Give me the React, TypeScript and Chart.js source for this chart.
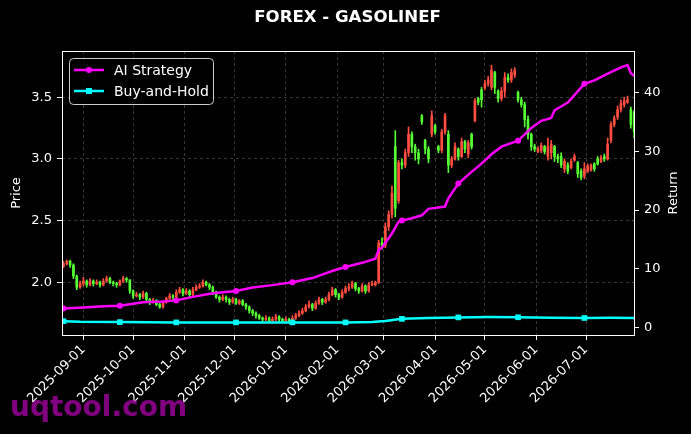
import React, { useEffect, useRef } from 'react';
import { Chart, registerables } from 'chart.js';

Chart.register(...registerables);

// ---------- data ----------
const TITLE = 'FOREX - GASOLINEF';
const START_DATE = '2025-08-20';
const STEP_DAYS = 2;

const opens = [
  2.13, 2.15, 2.17, 2.14, 2.05, 1.96, 1.99, 2.01, 1.98, 2.01,
  1.99, 2.00, 1.98, 2.01, 2.03, 2.00, 1.99, 1.98, 2.01, 2.03,
  2.02, 1.93, 1.89, 1.90, 1.88, 1.91, 1.86, 1.84, 1.85, 1.82,
  1.80, 1.84, 1.87, 1.89, 1.88, 1.92, 1.94, 1.91, 1.93, 1.90,
  1.94, 1.96, 1.97, 2.00, 1.98, 1.96, 1.92, 1.88, 1.86, 1.88,
  1.86, 1.84, 1.86, 1.83, 1.85, 1.82, 1.80, 1.77, 1.75, 1.73,
  1.71, 1.70, 1.71, 1.69, 1.70, 1.72, 1.70, 1.69, 1.70, 1.68,
  1.71, 1.73, 1.75, 1.77, 1.80, 1.82, 1.79, 1.83, 1.86, 1.84,
  1.86, 1.90, 1.94, 1.90, 1.88, 1.92, 1.95, 1.96, 1.99, 1.95,
  1.93, 1.97, 1.93, 1.98, 1.98, 2.00, 2.32, 2.30, 2.45, 2.55,
  3.10, 2.66, 2.97, 2.95, 3.05, 3.20, 3.10, 3.05, 3.35, 3.15,
  3.08, 3.20, 3.27, 3.10, 3.07, 3.22, 3.20, 2.95, 3.00, 3.08,
  3.02, 3.14, 3.04, 3.20, 3.31, 3.49, 3.56, 3.58, 3.61, 3.58,
  3.70, 3.55, 3.49, 3.55, 3.66, 3.64, 3.68, 3.54, 3.48, 3.44,
  3.32, 3.20, 3.10, 3.06, 3.07, 3.10, 3.02, 3.05, 3.10, 3.02,
  3.02, 2.92, 2.95, 2.93, 2.99, 2.97, 2.90, 2.86, 2.90, 2.91,
  2.96, 3.00, 2.98, 3.02, 3.00, 3.15, 3.28, 3.34, 3.40, 3.44,
  3.46, 3.40, 3.38,
];
const highs = [
  2.17, 2.18, 2.18, 2.15, 2.06, 2.01, 2.04, 2.02, 2.03, 2.02,
  2.02, 2.01, 2.03, 2.05, 2.04, 2.01, 2.00, 2.02, 2.05, 2.04,
  2.02, 1.94, 1.92, 1.91, 1.93, 1.92, 1.87, 1.87, 1.86, 1.83,
  1.85, 1.88, 1.91, 1.90, 1.94, 1.96, 1.95, 1.95, 1.94, 1.96,
  1.98, 1.99, 2.02, 2.01, 1.99, 1.97, 1.93, 1.89, 1.90, 1.89,
  1.87, 1.88, 1.87, 1.86, 1.86, 1.83, 1.81, 1.78, 1.76, 1.74,
  1.72, 1.73, 1.72, 1.72, 1.74, 1.73, 1.71, 1.72, 1.71, 1.73,
  1.75, 1.77, 1.79, 1.82, 1.85, 1.83, 1.85, 1.88, 1.87, 1.88,
  1.92, 1.96, 1.95, 1.91, 1.94, 1.97, 1.99, 2.01, 2.00, 1.96,
  1.99, 1.98, 2.00, 2.01, 2.01, 2.34, 2.36, 2.48, 2.58, 2.78,
  3.23, 2.99, 3.00, 3.08, 3.26, 3.22, 3.12, 3.08, 3.36, 3.16,
  3.10, 3.39, 3.28, 3.11, 3.24, 3.37, 3.23, 3.02, 3.13, 3.09,
  3.17, 3.15, 3.15, 3.21, 3.49, 3.50, 3.58, 3.64, 3.67, 3.76,
  3.71, 3.56, 3.58, 3.70, 3.69, 3.73, 3.74, 3.55, 3.50, 3.46,
  3.35, 3.21, 3.12, 3.10, 3.13, 3.11, 3.17, 3.15, 3.11, 3.04,
  3.05, 3.00, 2.97, 3.00, 3.04, 2.98, 2.92, 2.97, 2.96, 2.96,
  2.97, 3.02, 3.03, 3.04, 3.17, 3.30, 3.35, 3.43, 3.48, 3.50,
  3.51, 3.42, 3.39,
];
const lows = [
  2.12, 2.14, 2.12, 2.03, 1.94, 1.95, 1.97, 1.96, 1.97, 1.97,
  1.98, 1.96, 1.97, 2.00, 1.99, 1.97, 1.96, 1.97, 2.00, 2.00,
  1.91, 1.87, 1.88, 1.86, 1.87, 1.85, 1.82, 1.83, 1.81, 1.79,
  1.79, 1.83, 1.86, 1.86, 1.87, 1.91, 1.89, 1.90, 1.88, 1.89,
  1.93, 1.95, 1.96, 1.97, 1.94, 1.90, 1.87, 1.84, 1.85, 1.84,
  1.82, 1.83, 1.82, 1.82, 1.81, 1.78, 1.75, 1.73, 1.71, 1.70,
  1.68, 1.69, 1.68, 1.68, 1.69, 1.68, 1.68, 1.68, 1.67, 1.67,
  1.70, 1.72, 1.74, 1.76, 1.79, 1.77, 1.78, 1.82, 1.82, 1.83,
  1.85, 1.89, 1.88, 1.86, 1.87, 1.91, 1.93, 1.95, 1.93, 1.91,
  1.92, 1.91, 1.92, 1.97, 1.97, 1.99, 2.27, 2.28, 2.42, 2.52,
  2.53, 2.64, 2.92, 2.93, 3.02, 3.05, 2.99, 2.96, 3.28, 3.04,
  2.97, 3.18, 3.20, 3.05, 3.05, 3.20, 2.89, 2.93, 2.99, 2.99,
  3.01, 3.05, 3.01, 3.08, 3.30, 3.44, 3.42, 3.56, 3.59, 3.56,
  3.53, 3.46, 3.47, 3.50, 3.62, 3.62, 3.66, 3.46, 3.42, 3.26,
  3.16, 3.07, 3.06, 3.05, 3.05, 3.04, 2.99, 3.00, 2.98, 2.97,
  2.93, 2.89, 2.88, 2.92, 2.98, 2.85, 2.83, 2.84, 2.89, 2.90,
  2.90, 2.95, 2.97, 2.98, 2.99, 3.13, 3.26, 3.32, 3.38, 3.42,
  3.45, 3.25, 3.17,
];
const closes = [
  2.15, 2.17, 2.14, 2.05, 1.96, 1.99, 2.01, 1.98, 2.01, 1.99,
  2.00, 1.98, 2.01, 2.03, 2.00, 1.99, 1.98, 2.01, 2.03, 2.02,
  1.93, 1.89, 1.90, 1.88, 1.91, 1.86, 1.84, 1.85, 1.82, 1.80,
  1.84, 1.87, 1.89, 1.88, 1.92, 1.94, 1.91, 1.93, 1.90, 1.94,
  1.96, 1.97, 2.00, 1.98, 1.96, 1.92, 1.88, 1.86, 1.88, 1.86,
  1.84, 1.86, 1.83, 1.85, 1.82, 1.80, 1.77, 1.75, 1.73, 1.71,
  1.70, 1.71, 1.69, 1.70, 1.72, 1.70, 1.69, 1.70, 1.68, 1.71,
  1.73, 1.75, 1.77, 1.80, 1.82, 1.79, 1.83, 1.86, 1.84, 1.86,
  1.90, 1.94, 1.90, 1.88, 1.92, 1.95, 1.96, 1.99, 1.95, 1.93,
  1.97, 1.93, 1.98, 1.99, 2.00, 2.32, 2.30, 2.45, 2.55, 2.72,
  2.60, 2.97, 2.95, 3.05, 3.20, 3.10, 3.05, 3.00, 3.30, 3.08,
  3.00, 3.35, 3.22, 3.07, 3.22, 3.35, 2.95, 3.00, 3.10, 3.02,
  3.14, 3.08, 3.13, 3.10, 3.47, 3.46, 3.48, 3.61, 3.64, 3.72,
  3.58, 3.49, 3.55, 3.66, 3.64, 3.70, 3.72, 3.48, 3.44, 3.32,
  3.20, 3.10, 3.08, 3.08, 3.11, 3.06, 3.10, 3.12, 3.02, 3.00,
  2.95, 2.98, 2.90, 2.98, 3.02, 2.88, 2.85, 2.92, 2.94, 2.95,
  2.92, 2.96, 3.01, 3.00, 3.12, 3.28, 3.33, 3.40, 3.45, 3.47,
  3.48, 3.28, 3.22,
];

// cumulative return series (index = candle index)
const strategyIdx = [
  0, 6, 12, 17, 24, 30, 34, 39, 45, 52, 57, 63, 69, 75, 81, 85, 90, 94, 95, 96,
  99, 101, 102, 105, 108, 110, 115, 116, 119, 123, 126, 129, 132, 137, 141, 144,
  147, 148, 152, 157, 160, 165, 168, 170, 171, 172,
];
const strategyVals = [
  3.2, 3.4, 3.6, 3.7, 4.3, 4.4, 4.6, 5.2, 5.8, 6.2, 6.8, 7.2, 7.7, 8.4, 9.6, 10.3, 11.0, 11.7, 13.2, 13.6,
  16.0, 18.0, 18.2, 18.6, 19.1, 20.2, 20.6, 22.0, 24.5, 26.5, 27.9, 29.5, 30.8, 31.8, 34.0, 35.2,
  35.7, 37.0, 38.3, 41.5, 42.1, 43.5, 44.3, 44.7, 43.3, 42.9,
];
const holdIdx = [0, 5, 17, 34, 52, 69, 85, 93, 97, 102, 110, 119, 128, 137, 147, 157, 165, 172];
const holdVals = [1.05, 0.95, 0.9, 0.85, 0.85, 0.85, 0.85, 0.9, 1.1, 1.45, 1.6, 1.7, 1.75, 1.72, 1.62, 1.6, 1.62, 1.58];
const markerIdx = [0, 17, 34, 52, 69, 85, 102, 119, 137, 157];

const monthTicks = [
  '2025-09-01', '2025-10-01', '2025-11-01', '2025-12-01', '2026-01-01', '2026-02-01',
  '2026-03-01', '2026-04-01', '2026-05-01', '2026-06-01', '2026-07-01',
];
const priceTicks = [2.0, 2.5, 3.0, 3.5];
const returnTicks = [0, 10, 20, 30, 40];

// ---------- style ----------
const MAGENTA = '#ff00ff';
const CYAN = '#00ffff';
const UP = '#ff4d40';
const DOWN = '#55ff33';
const GRID = 'rgba(255,255,255,0.27)';
const FONT = '"DejaVu Sans", "Liberation Sans", sans-serif';

const dayOf = (s: string) =>
  (Date.parse(s + 'T00:00:00Z') - Date.parse(START_DATE + 'T00:00:00Z')) / 86400000;

const decor = {
  id: 'decor',
  beforeDraw(chart: any) {
    const { ctx, width, height } = chart;
    ctx.save();
    ctx.fillStyle = '#000';
    ctx.fillRect(0, 0, width, height);
    ctx.restore();
  },
  afterDraw(chart: any) {
    const { ctx, chartArea: a } = chart;
    ctx.save();
    // frame
    ctx.strokeStyle = '#ffffff';
    ctx.lineWidth = 1;
    ctx.setLineDash([]);
    ctx.strokeRect(Math.round(a.left) + 0.5, Math.round(a.top) + 0.5, Math.round(a.right - a.left), Math.round(a.bottom - a.top));
    // title
    ctx.fillStyle = '#ffffff';
    ctx.font = `bold 16.6px ${FONT}`;
    ctx.textAlign = 'center';
    ctx.textBaseline = 'middle';
    ctx.fillText(TITLE, 347.5, 18);
    // axis titles
    const mid = (a.top + a.bottom) / 2;
    ctx.font = `13px ${FONT}`;
    ctx.save();
    ctx.translate(17, mid);
    ctx.rotate(-Math.PI / 2);
    ctx.fillText('Price', 0, 0);
    ctx.restore();
    ctx.save();
    ctx.translate(674, mid);
    ctx.rotate(-Math.PI / 2);
    ctx.fillText('Return', 0, 0);
    ctx.restore();
    // legend
    const lx = 69.5, ly = 58.5, lw = 144, lh = 46;
    ctx.beginPath();
    (ctx as any).roundRect(lx, ly, lw, lh, 4);
    ctx.fillStyle = 'rgba(0,0,0,0.8)';
    ctx.fill();
    ctx.strokeStyle = '#cccccc';
    ctx.lineWidth = 1;
    ctx.stroke();
    const rows = [
      { label: 'AI Strategy', color: MAGENTA, y: 70, square: false },
      { label: 'Buy-and-Hold', color: CYAN, y: 91, square: true },
    ];
    rows.forEach((r) => {
      ctx.strokeStyle = r.color;
      ctx.lineWidth = 2.5;
      ctx.beginPath();
      ctx.moveTo(74, r.y);
      ctx.lineTo(104, r.y);
      ctx.stroke();
      ctx.fillStyle = r.color;
      if (r.square) {
        ctx.fillRect(86, r.y - 3, 6, 6);
      } else {
        ctx.beginPath();
        ctx.arc(89, r.y, 3, 0, Math.PI * 2);
        ctx.fill();
      }
      ctx.fillStyle = '#ffffff';
      ctx.font = `14px ${FONT}`;
      ctx.textAlign = 'left';
      ctx.textBaseline = 'middle';
      ctx.fillText(r.label, 114, r.y + 1);
    });
    // watermark
    ctx.font = `bold 28px ${FONT}`;
    ctx.fillStyle = 'rgba(150,0,150,0.85)';
    ctx.textAlign = 'left';
    ctx.textBaseline = 'alphabetic';
    ctx.fillText('uqtool.com', 10, 416);
    ctx.restore();
  },
};

export default function App() {
  const ref = useRef<HTMLCanvasElement | null>(null);

  useEffect(() => {
    document.body.style.margin = '0';
    document.body.style.background = '#000';
    const canvas = ref.current;
    if (!canvas) return;

    const candleColors = closes.map((c, k) => (c >= opens[k] ? UP : DOWN));
    const wickData = closes.map((_, k) => ({ x: k * STEP_DAYS, y: [lows[k], highs[k]] }));
    const bodyData = closes.map((c, k) => ({ x: k * STEP_DAYS, y: [opens[k], c] }));
    const stratData = strategyIdx.map((k, j) => ({ x: k * STEP_DAYS, y: strategyVals[j] }));
    const holdData = holdIdx.map((k, j) => ({ x: k * STEP_DAYS, y: holdVals[j] }));

    const tickStyle = {
      color: '#ffffff',
      font: { size: 13, family: FONT },
    };
    const gridBase = {
      color: GRID,
      lineWidth: 0.8,
      drawTicks: true,
      tickLength: 5,
      tickColor: '#ffffff',
      tickWidth: 1,
      tickBorderDash: [],
    };

    const chart = new Chart(canvas, {
      type: 'bar',
      data: {
        datasets: [
          {
            type: 'line',
            label: 'AI Strategy',
            data: stratData,
            yAxisID: 'y1',
            borderColor: MAGENTA,
            backgroundColor: MAGENTA,
            borderWidth: 2.5,
            pointStyle: 'circle',
            pointRadius: (c: any) => (markerIdx.includes(strategyIdx[c.dataIndex]) ? 3 : 0),
            pointBorderWidth: 0,
            tension: 0,
            fill: false,
            order: 1,
          } as any,
          {
            type: 'line',
            label: 'Buy-and-Hold',
            data: holdData,
            yAxisID: 'y1',
            borderColor: CYAN,
            backgroundColor: CYAN,
            borderWidth: 2.5,
            pointStyle: 'rect',
            pointRadius: (c: any) => (markerIdx.includes(holdIdx[c.dataIndex]) ? 4 : 0),
            pointBorderWidth: 0,
            tension: 0,
            fill: false,
            order: 0,
          } as any,
          {
            type: 'bar',
            label: 'wick',
            data: wickData,
            yAxisID: 'y',
            backgroundColor: candleColors,
            borderWidth: 0,
            barThickness: 1,
            grouped: false,
            order: 3,
          } as any,
          {
            type: 'bar',
            label: 'body',
            data: bodyData,
            yAxisID: 'y',
            backgroundColor: candleColors,
            borderWidth: 0,
            barThickness: 2,
            grouped: false,
            order: 2,
          } as any,
        ],
      },
      options: {
        responsive: false,
        animation: false,
        devicePixelRatio: 1,
        events: [],
        layout: { padding: { top: 51, left: 0, right: 0, bottom: 0 } },
        plugins: {
          legend: { display: false },
          title: { display: false },
          tooltip: { enabled: false },
        },
        scales: {
          x: {
            type: 'linear',
            min: -0.9,
            max: 343.9,
            offset: false,
            afterBuildTicks: (s: any) => {
              s.ticks = monthTicks.map((t) => ({ value: dayOf(t) }));
            },
            afterFit: (s: any) => {
              s.height = 99;
            },
            ticks: {
              ...tickStyle,
              autoSkip: false,
              minRotation: 45,
              maxRotation: 45,
              padding: 2,
              callback: (_v: any, i: number) => monthTicks[i],
            },
            grid: { ...gridBase, offset: false },
            border: { display: false, dash: [3, 3] },
          },
          y: {
            type: 'linear',
            position: 'left',
            min: 1.573,
            max: 3.875,
            afterBuildTicks: (s: any) => {
              s.ticks = priceTicks.map((v) => ({ value: v }));
            },
            afterFit: (s: any) => {
              s.width = 62;
            },
            ticks: {
              ...tickStyle,
              padding: 5,
              callback: (v: any) => Number(v).toFixed(1),
            },
            grid: { ...gridBase },
            border: { display: false, dash: [3, 3] },
          },
          y1: {
            type: 'linear',
            position: 'right',
            min: -1.3,
            max: 47.1,
            afterBuildTicks: (s: any) => {
              s.ticks = returnTicks.map((v) => ({ value: v }));
            },
            afterFit: (s: any) => {
              s.width = 57;
            },
            ticks: {
              ...tickStyle,
              padding: 5,
              callback: (v: any) => String(v),
            },
            grid: { ...gridBase, drawOnChartArea: false },
            border: { display: false },
          },
        },
      } as any,
      plugins: [decor],
    });

    return () => chart.destroy();
  }, []);

  return (
    <div style={{ width: 691, height: 434, background: '#000' }}>
      <canvas ref={ref} width={691} height={434} style={{ display: 'block' }} />
    </div>
  );
}
